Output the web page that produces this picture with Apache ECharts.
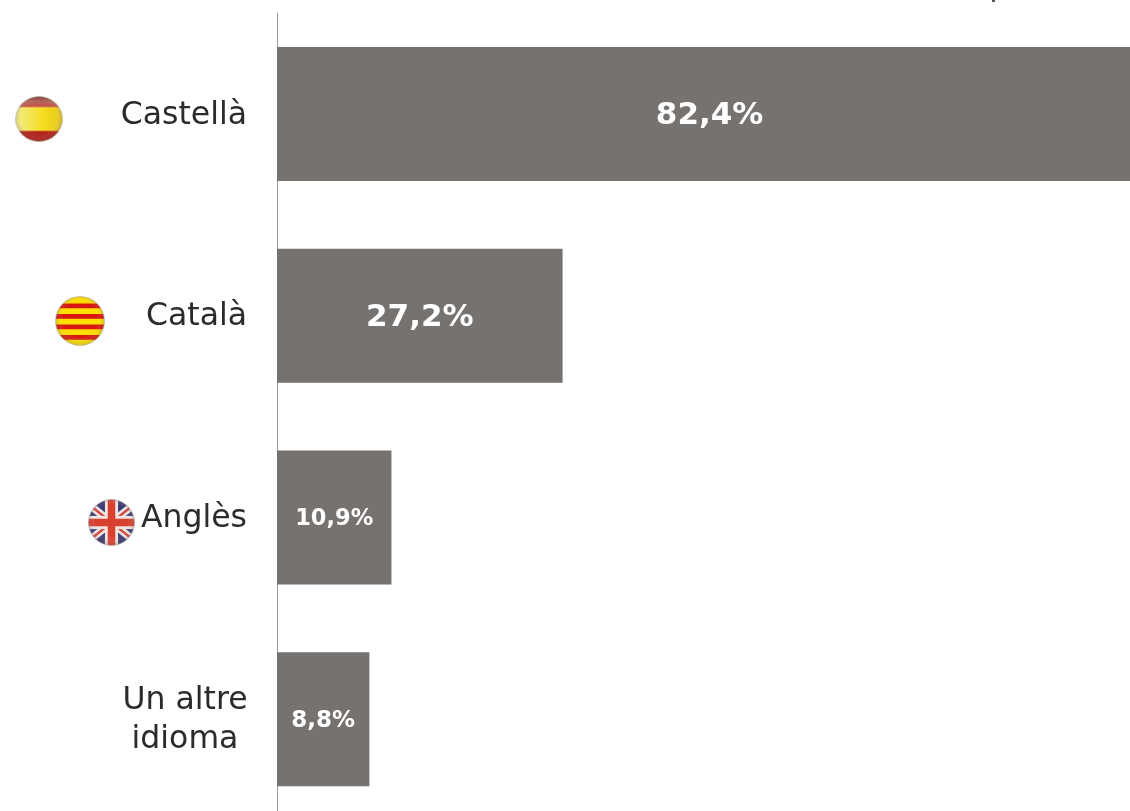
<!DOCTYPE html>
<html><head><meta charset="utf-8">
<script src="https://cdn.jsdelivr.net/npm/echarts@6/dist/echarts.min.js"></script>
<style>html,body{margin:0;padding:0;background:#fff;overflow:hidden}#c{width:1130px;height:811px}</style>
</head><body><div id="c"></div>
<script>
const categories = ['Castellà', 'Català', 'Anglès', 'Un altre\nidioma'];
const values = [82.4, 27.2, 10.9, 8.8];

const FONT = '"DejaVu Sans", Verdana, sans-serif';

function flag(size, draw) {
  const cv = document.createElement('canvas');
  cv.width = cv.height = size;
  const g = cv.getContext('2d');
  const r = size / 2;
  g.save();
  g.beginPath(); g.arc(r, r, r - 0.5, 0, Math.PI * 2); g.clip();
  draw(g, size);
  const shade = g.createRadialGradient(r, r * 0.9, r * 0.7, r, r, r);
  shade.addColorStop(0, 'rgba(255,255,255,0)');
  shade.addColorStop(1, 'rgba(90,60,60,0.25)');
  g.fillStyle = shade; g.fillRect(0, 0, size, size);
  g.restore();
  g.strokeStyle = 'rgba(190,190,190,0.7)'; g.lineWidth = 1;
  g.beginPath(); g.arc(r, r, r - 0.5, 0, Math.PI * 2); g.stroke();
  const out = document.createElement('canvas');
  out.width = out.height = size;
  const o = out.getContext('2d');
  o.filter = 'blur(0.6px)';
  o.drawImage(cv, 0, 0);
  return out;
}
const spain = flag(47, (g, s) => {
  const y = g.createLinearGradient(0, 0, s, 0);
  y.addColorStop(0, '#f3ef8a'); y.addColorStop(0.6, '#f4dc1e'); y.addColorStop(1, '#e8c820');
  g.fillStyle = y; g.fillRect(0, 0, s, s);
  const t = g.createLinearGradient(0, 0, 0, s * 0.24);
  t.addColorStop(0, '#7a2a26'); t.addColorStop(0.5, '#b5655c'); t.addColorStop(1, '#c9524a');
  g.fillStyle = t; g.fillRect(0, 0, s, s * 0.24);
  g.fillStyle = '#b3201a'; g.fillRect(0, s * 0.76, s, s * 0.24);
});
const catalonia = flag(50, (g, s) => {
  g.fillStyle = '#ffdf00'; g.fillRect(0, 0, s, s);
  g.fillStyle = '#d8160e';
  [0.15, 0.36, 0.57, 0.78].forEach(p => g.fillRect(0, s * p, s, s * 0.095));
});
const uk = flag(47, (g, s) => {
  g.fillStyle = '#3a3a72'; g.fillRect(0, 0, s, s);
  g.strokeStyle = '#efe6e6'; g.lineWidth = s * 0.16;
  g.beginPath(); g.moveTo(0, s * 0.1); g.lineTo(s, s * 0.9); g.moveTo(s, s * 0.1); g.lineTo(0, s * 0.9); g.stroke();
  g.strokeStyle = '#d8453a'; g.lineWidth = s * 0.05;
  g.beginPath(); g.moveTo(0, s * 0.1); g.lineTo(s, s * 0.9); g.moveTo(s, s * 0.1); g.lineTo(0, s * 0.9); g.stroke();
  g.fillStyle = '#efe6e2'; g.fillRect(s * 0.36, 0, s * 0.28, s); g.fillRect(0, s * 0.36, s, s * 0.28);
  g.fillStyle = '#d9402f'; g.fillRect(s * 0.42, 0, s * 0.16, s); g.fillRect(0, s * 0.42, s, s * 0.16);
});

const chart = echarts.init(document.getElementById('c'), null, {renderer: 'canvas'});
chart.setOption({
  animation: false,
  backgroundColor: '#fff',
  grid: {left: 277, top: 13, right: -197, bottom: -9, containLabel: false, outerBoundsMode: 'none'},
  xAxis: {type: 'value', min: 0, max: 100, show: false},
  yAxis: {
    type: 'category', inverse: true, data: categories,
    axisTick: {show: false},
    axisLine: {show: true, lineStyle: {color: '#9a9a9a', width: 1}},
    axisLabel: {
      margin: 30, fontFamily: FONT, fontSize: 31.5, color: '#2b2b2b', lineHeight: 39, padding: [3, 0, 0, 0],
      formatter: v => v.includes('\n') ? v.split('\n').map(s => '{c|' + s + '}').join('\n') : v,
      rich: {c: {width: 124, align: 'center', fontFamily: FONT, fontSize: 31.5, color: '#2b2b2b', lineHeight: 39}}
    }
  },
  series: [{
    type: 'bar',
    data: values.map(v => ({
      value: v,
      label: {fontSize: v > 20 ? 31 : (v > 10 ? 22.5 : 23)}
    })),
    barWidth: 134,
    clip: false,
    itemStyle: {color: '#767270'},
    label: {
      show: true, position: 'inside', offset: [0, 2], color: '#fff', fontWeight: 'bold', fontFamily: FONT,
      formatter: p => String(p.value).replace('.', ',') + '%'
    }
  }],
  graphic: [
    {type: 'image', left: 15, top: 96, z: 10, style: {image: spain, width: 48, height: 46}},
    {type: 'image', left: 55, top: 296, z: 10, style: {image: catalonia, width: 50, height: 50}},
    {type: 'image', left: 88, top: 499, z: 10, style: {image: uk, width: 47, height: 47}},
    {type: 'rect', left: 992, top: 0, z: 10, shape: {width: 3, height: 2}, style: {fill: '#555'}}
  ]
});
</script></body></html>
